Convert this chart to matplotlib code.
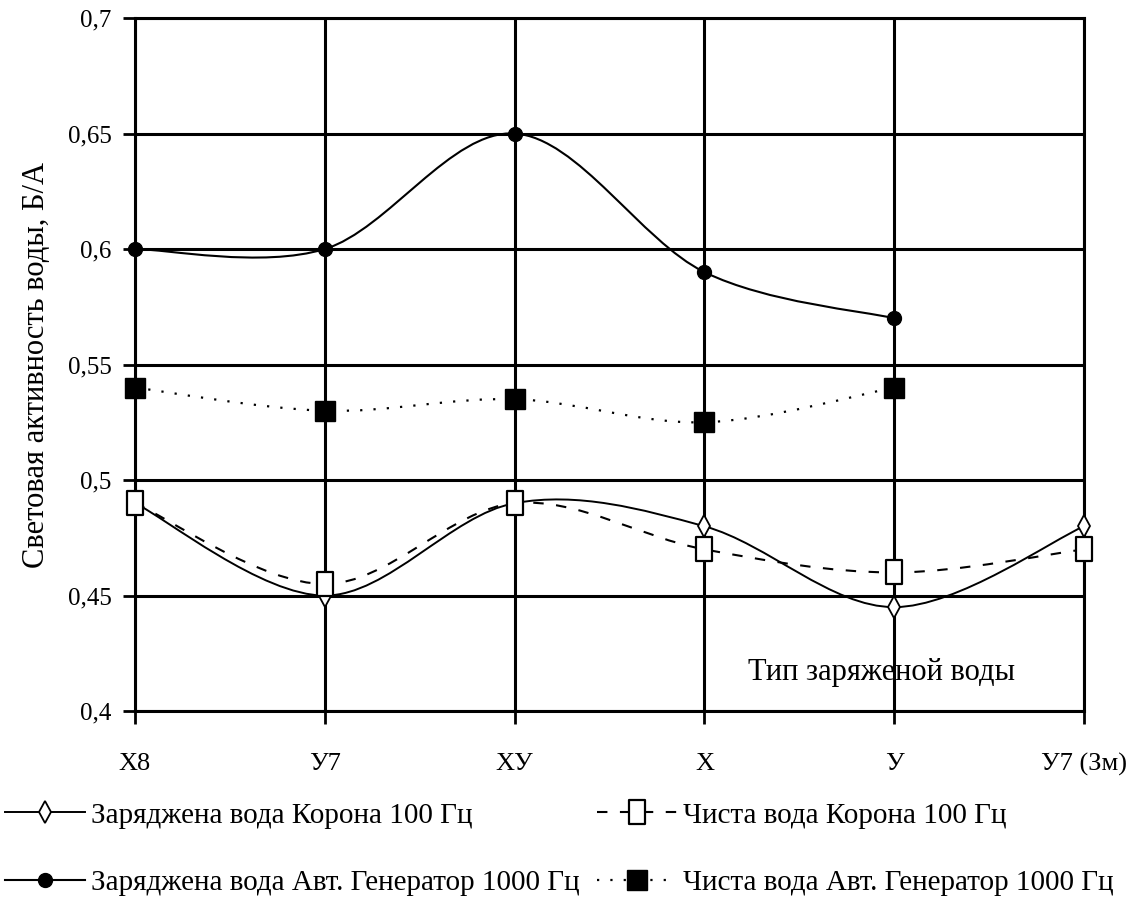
import numpy as np
import matplotlib
matplotlib.use("Agg")
import matplotlib.pyplot as plt
from matplotlib.path import Path
from matplotlib.patches import PathPatch
from matplotlib.lines import Line2D

# data
categories = ["Х8", "У7", "ХУ", "Х", "У", "У7 (Зм)"]
korona_charged = [0.49, 0.45, 0.49, 0.48, 0.445, 0.48]
korona_clean = [0.49, 0.455, 0.49, 0.47, 0.46, 0.47]
gen_charged = [0.60, 0.60, 0.65, 0.59, 0.57]
gen_clean = [0.54, 0.53, 0.535, 0.525, 0.54]

labels = [
    "Заряджена вода Корона 100 Гц",
    "Чиста вода Корона 100 Гц",
    "Заряджена вода Авт. Генератор 1000 Гц",
    "Чиста вода Авт. Генератор 1000 Гц",
]

plt.rcParams["font.family"] = ["Liberation Serif", "DejaVu Serif"]

fig = plt.figure(figsize=(11.44, 8.99), dpi=100)
ax = fig.add_axes([0.118, 0.209, 0.8296, 0.771])


def smooth_path(xs, ys):
    # excel-like smoothed line: catmull-rom segments as cubic beziers
    pts = np.column_stack([xs, ys])
    verts = [pts[0]]
    codes = [Path.MOVETO]
    n = len(pts)
    for i in range(n - 1):
        p0 = pts[i - 1] if i > 0 else pts[i]
        p1 = pts[i]
        p2 = pts[i + 1]
        p3 = pts[i + 2] if i + 2 < n else pts[i + 1]
        c1 = p1 + (p2 - p0) / 6.0
        c2 = p2 - (p3 - p1) / 6.0
        verts += [c1, c2, p2]
        codes += [Path.CURVE4] * 3
    return Path(verts, codes)


rect = Path([(-0.32, -0.5), (0.32, -0.5), (0.32, 0.5), (-0.32, 0.5), (-0.32, -0.5)],
            [Path.MOVETO, Path.LINETO, Path.LINETO, Path.LINETO, Path.CLOSEPOLY])

styles = [
    dict(ls="-", lw=1.4, marker="d", ms=11, mfc="white", mew=1.3),
    dict(ls=(0, (5, 6)), lw=1.5, marker=rect, ms=17, mfc="white", mew=1.6),
    dict(ls="-", lw=1.5, marker="o", ms=10, mfc="black", mew=1),
    dict(ls=(0, (1, 5)), lw=1.6, marker="s", ms=14, mfc="black", mew=1),
]
series = [korona_charged, korona_clean, gen_charged, gen_clean]

handles = []
for vals, st in zip(series, styles):
    xs = np.arange(len(vals))
    patch = PathPatch(smooth_path(xs, vals), fill=False, ec="black",
                      lw=st["lw"], ls=st["ls"], zorder=3, clip_on=False)
    ax.add_patch(patch)
    ax.plot(xs, vals, ls="none", marker=st["marker"], ms=st["ms"],
            mfc=st["mfc"], mec="black", mew=st["mew"], zorder=4, clip_on=False)
    handles.append(Line2D([], [], color="black", ls=st["ls"], lw=st["lw"],
                          marker=st["marker"], ms=st["ms"], mfc=st["mfc"],
                          mec="black", mew=st["mew"]))

ax.set_xlim(0, 5)
ax.set_ylim(0.4, 0.7)
ax.set_xticks(range(len(categories)))
ax.set_xticklabels(categories, fontsize=19)
yt = [0.4, 0.45, 0.5, 0.55, 0.6, 0.65, 0.7]
ax.set_yticks(yt)
ax.set_yticklabels([("%g" % v).replace(".", ",") for v in yt], fontsize=18)
ax.grid(True, color="black", lw=2.2)
ax.set_axisbelow(True)
for s in ax.spines.values():
    s.set_linewidth(2.2)
ax.tick_params(axis="x", direction="out", length=9, width=2, pad=21)
ax.tick_params(axis="y", direction="out", length=9, width=2, pad=8)
ax.set_ylabel("Световая активность воды, Б/А", fontsize=22, labelpad=12)

ax.text(0.787, 0.056, "Тип заряженой воды", transform=ax.transAxes,
        ha="center", va="center", fontsize=22)

# row-major order for a two-column legend
order = [0, 2, 1, 3]
fig.legend([handles[i] for i in order], [labels[i] for i in order],
           loc="lower left", bbox_to_anchor=(-0.011, -0.016),
           ncol=2, frameon=False, fontsize=21, handlelength=2.75,
           handletextpad=0.2, columnspacing=0.6, labelspacing=1.4,
           borderaxespad=0.2)

fig.savefig("out.png", dpi=100)
